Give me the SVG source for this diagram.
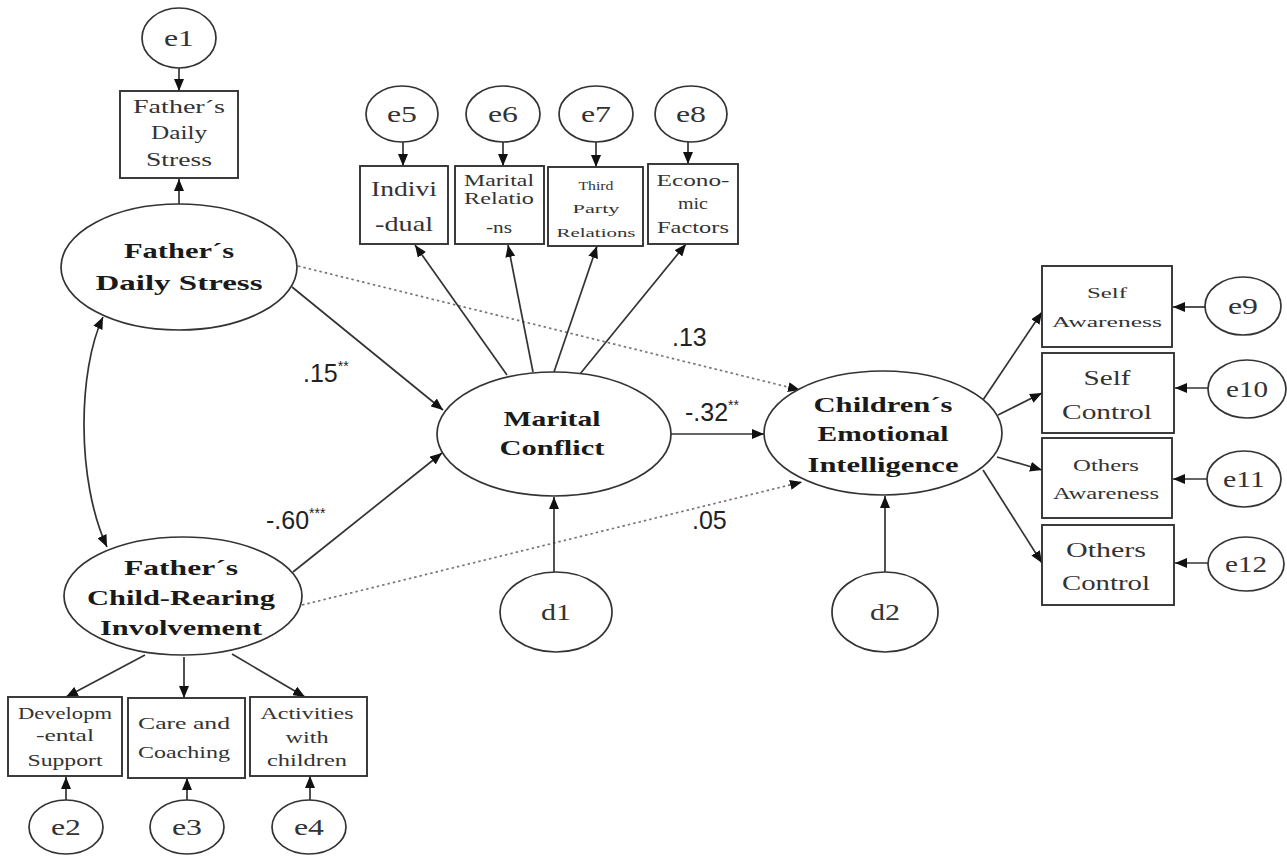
<svg xmlns="http://www.w3.org/2000/svg" width="1287" height="859" viewBox="0 0 1287 859">
<defs>
<marker id="ah" markerUnits="userSpaceOnUse" markerWidth="13" markerHeight="10" refX="12" refY="5" orient="auto-start-reverse">
<path d="M0,0 L12,5 L0,10 z" fill="#111"/>
</marker>
<style>
.n{fill:#fff;stroke:#333;stroke-width:1.7}
.b{fill:#fff;stroke:#333;stroke-width:1.9}
.c{fill:none;stroke:#333;stroke-width:1.7;marker-end:url(#ah)}
.d{fill:none;stroke:#777;stroke-width:1.7;stroke-dasharray:2.5 3;marker-end:url(#ah)}
.lt{font-family:"Liberation Serif",serif;font-weight:bold;font-size:22px;fill:#1a1a1a;text-anchor:middle}
.bt{font-family:"Liberation Serif",serif;fill:#333;text-anchor:middle}
.et{font-family:"Liberation Serif",serif;font-size:24px;fill:#333;text-anchor:middle}
.lb{font-family:"Liberation Sans",sans-serif;font-size:25px;fill:#222}
.sup{font-size:14px}
</style>
</defs>
<rect width="1287" height="859" fill="#fff"/>

<g id="connectors">
<line class="c" x1="179" y1="68" x2="179" y2="91"/>
<line class="c" x1="179" y1="204" x2="179" y2="179"/>
<path class="c" d="M103,317 C78,370 76,480 107,547" marker-start="url(#ah)"/>
<line class="c" x1="145" y1="655" x2="66" y2="697"/>
<line class="c" x1="184" y1="657" x2="184" y2="698"/>
<line class="c" x1="232" y1="654" x2="305" y2="697"/>
<line class="c" x1="66" y1="800" x2="66" y2="777"/>
<line class="c" x1="187" y1="800" x2="187" y2="778"/>
<line class="c" x1="310" y1="800" x2="310" y2="776"/>
<line class="c" x1="292" y1="287" x2="443" y2="410"/>
<line class="c" x1="293" y1="572" x2="442" y2="453"/>
<line class="d" x1="298" y1="266" x2="800" y2="390"/>
<line class="d" x1="302" y1="605" x2="802" y2="482"/>
<line class="c" x1="670" y1="434" x2="764" y2="434"/>
<line class="c" x1="507" y1="375" x2="415" y2="245"/>
<line class="c" x1="533" y1="372" x2="508" y2="245"/>
<line class="c" x1="554" y1="372" x2="597" y2="246"/>
<line class="c" x1="580" y1="374" x2="686" y2="244"/>
<line class="c" x1="403" y1="142" x2="403" y2="166"/>
<line class="c" x1="503" y1="142" x2="503" y2="166"/>
<line class="c" x1="596" y1="142" x2="596" y2="167"/>
<line class="c" x1="688" y1="142" x2="688" y2="164"/>
<line class="c" x1="554" y1="572" x2="554" y2="497"/>
<line class="c" x1="885" y1="572" x2="885" y2="496"/>
<line class="c" x1="983" y1="400" x2="1042" y2="312"/>
<line class="c" x1="998" y1="415" x2="1042" y2="393"/>
<line class="c" x1="997" y1="457" x2="1042" y2="470"/>
<line class="c" x1="983" y1="470" x2="1042" y2="563"/>
<line class="c" x1="1205" y1="307" x2="1173" y2="307"/>
<line class="c" x1="1208" y1="388" x2="1175" y2="388"/>
<line class="c" x1="1207" y1="479" x2="1173" y2="479"/>
<line class="c" x1="1209" y1="563" x2="1175" y2="563"/>
</g>

<g id="labels">
<text class="lb" x="303" y="382">.15<tspan class="sup" dy="-11">**</tspan></text>
<text class="lb" x="266" y="529">-.60<tspan class="sup" dy="-11">***</tspan></text>
<text class="lb" x="672" y="346">.13</text>
<text class="lb" x="685" y="421">-.32<tspan class="sup" dy="-11">**</tspan></text>
<text class="lb" x="692" y="529">.05</text>
</g>

<g id="e1"><ellipse class="n" cx="179" cy="38" rx="37" ry="30"/><text class="et" x="179" y="46" textLength="30" lengthAdjust="spacingAndGlyphs">e1</text></g>
<g id="fds_obs"><rect class="b" x="120" y="91" width="118" height="87"/>
<text class="bt" font-size="18" x="179" y="113" textLength="92" lengthAdjust="spacingAndGlyphs">Father´s</text>
<text class="bt" font-size="18" x="179" y="139" textLength="56" lengthAdjust="spacingAndGlyphs">Daily</text>
<text class="bt" font-size="18" x="179" y="166" textLength="66" lengthAdjust="spacingAndGlyphs">Stress</text></g>

<g id="fds"><ellipse class="n" cx="179" cy="267" rx="118" ry="63"/>
<text class="lt" x="179" y="258" textLength="110" lengthAdjust="spacingAndGlyphs">Father´s</text>
<text class="lt" x="179" y="290" textLength="167" lengthAdjust="spacingAndGlyphs">Daily Stress</text></g>

<g id="fcr"><ellipse class="n" cx="183" cy="596" rx="119" ry="59"/>
<text class="lt" x="181" y="575" textLength="114" lengthAdjust="spacingAndGlyphs">Father´s</text>
<text class="lt" x="181" y="605" textLength="188" lengthAdjust="spacingAndGlyphs">Child-Rearing</text>
<text class="lt" x="181" y="635" textLength="162" lengthAdjust="spacingAndGlyphs">Involvement</text></g>

<g id="dev"><rect class="b" x="8" y="697" width="114" height="79"/>
<text class="bt" font-size="16" x="65" y="719" textLength="94" lengthAdjust="spacingAndGlyphs">Developm</text>
<text class="bt" font-size="16" x="65" y="741" textLength="58" lengthAdjust="spacingAndGlyphs">-ental</text>
<text class="bt" font-size="16" x="65" y="766" textLength="75" lengthAdjust="spacingAndGlyphs">Support</text></g>
<g id="care"><rect class="b" x="128" y="698" width="117" height="80"/>
<text class="bt" font-size="16" x="184" y="729" textLength="92" lengthAdjust="spacingAndGlyphs">Care and</text>
<text class="bt" font-size="16" x="184" y="758" textLength="92" lengthAdjust="spacingAndGlyphs">Coaching</text></g>
<g id="act"><rect class="b" x="250" y="697" width="117" height="79"/>
<text class="bt" font-size="16" x="307" y="719" textLength="93" lengthAdjust="spacingAndGlyphs">Activities</text>
<text class="bt" font-size="16" x="307" y="743" textLength="43" lengthAdjust="spacingAndGlyphs">with</text>
<text class="bt" font-size="16" x="307" y="766" textLength="80" lengthAdjust="spacingAndGlyphs">children</text></g>
<g id="e2"><ellipse class="n" cx="66" cy="827" rx="37" ry="27"/><text class="et" x="66" y="835" textLength="30" lengthAdjust="spacingAndGlyphs">e2</text></g>
<g id="e3"><ellipse class="n" cx="187" cy="827" rx="37" ry="27"/><text class="et" x="187" y="835" textLength="30" lengthAdjust="spacingAndGlyphs">e3</text></g>
<g id="e4"><ellipse class="n" cx="309" cy="827" rx="37" ry="27"/><text class="et" x="309" y="835" textLength="30" lengthAdjust="spacingAndGlyphs">e4</text></g>

<g id="e5"><ellipse class="n" cx="402" cy="114" rx="36" ry="28"/><text class="et" x="402" y="122" textLength="30" lengthAdjust="spacingAndGlyphs">e5</text></g>
<g id="e6"><ellipse class="n" cx="503" cy="114" rx="37" ry="28"/><text class="et" x="503" y="122" textLength="30" lengthAdjust="spacingAndGlyphs">e6</text></g>
<g id="e7"><ellipse class="n" cx="596" cy="114" rx="37" ry="28"/><text class="et" x="596" y="122" textLength="30" lengthAdjust="spacingAndGlyphs">e7</text></g>
<g id="e8"><ellipse class="n" cx="691" cy="114" rx="36" ry="28"/><text class="et" x="691" y="122" textLength="30" lengthAdjust="spacingAndGlyphs">e8</text></g>

<g id="indiv"><rect class="b" x="360" y="166" width="88" height="78"/>
<text class="bt" font-size="22" x="404" y="196" textLength="66" lengthAdjust="spacingAndGlyphs">Indivi</text>
<text class="bt" font-size="22" x="404" y="231" textLength="58" lengthAdjust="spacingAndGlyphs">-dual</text></g>
<g id="marrel"><rect class="b" x="455" y="166" width="89" height="78"/>
<text class="bt" font-size="16" x="499" y="186" textLength="70" lengthAdjust="spacingAndGlyphs">Marital</text>
<text class="bt" font-size="16" x="499" y="204" textLength="70" lengthAdjust="spacingAndGlyphs">Relatio</text>
<text class="bt" font-size="16" x="499" y="233" textLength="26" lengthAdjust="spacingAndGlyphs">-ns</text></g>
<g id="third"><rect class="b" x="548" y="167" width="95" height="79"/>
<text class="bt" font-size="13" x="596" y="190" textLength="35" lengthAdjust="spacingAndGlyphs">Third</text>
<text class="bt" font-size="13" x="596" y="213" textLength="47" lengthAdjust="spacingAndGlyphs">Party</text>
<text class="bt" font-size="13" x="596" y="237" textLength="79" lengthAdjust="spacingAndGlyphs">Relations</text></g>
<g id="econ"><rect class="b" x="648" y="164" width="90" height="80"/>
<text class="bt" font-size="16" x="693" y="186" textLength="73" lengthAdjust="spacingAndGlyphs">Econo-</text>
<text class="bt" font-size="16" x="693" y="209" textLength="30" lengthAdjust="spacingAndGlyphs">mic</text>
<text class="bt" font-size="16" x="693" y="233" textLength="72" lengthAdjust="spacingAndGlyphs">Factors</text></g>

<g id="marital"><ellipse class="n" cx="554" cy="434" rx="117" ry="62"/>
<text class="lt" x="552" y="426" textLength="97" lengthAdjust="spacingAndGlyphs">Marital</text>
<text class="lt" x="552" y="455" textLength="105" lengthAdjust="spacingAndGlyphs">Conflict</text></g>
<g id="d1"><ellipse class="n" cx="556" cy="612" rx="56" ry="40"/><text class="et" x="556" y="620" textLength="30" lengthAdjust="spacingAndGlyphs">d1</text></g>

<g id="children"><ellipse class="n" cx="883" cy="433" rx="119" ry="62"/>
<text class="lt" x="883" y="412" textLength="139" lengthAdjust="spacingAndGlyphs">Children´s</text>
<text class="lt" x="883" y="441" textLength="131" lengthAdjust="spacingAndGlyphs">Emotional</text>
<text class="lt" x="883" y="472" textLength="151" lengthAdjust="spacingAndGlyphs">Intelligence</text></g>
<g id="d2"><ellipse class="n" cx="885" cy="612" rx="53" ry="40"/><text class="et" x="885" y="620" textLength="30" lengthAdjust="spacingAndGlyphs">d2</text></g>

<g id="selfaw"><rect class="b" x="1042" y="266" width="130" height="81"/>
<text class="bt" font-size="15" x="1107" y="298" textLength="40" lengthAdjust="spacingAndGlyphs">Self</text>
<text class="bt" font-size="15" x="1107" y="327" textLength="110" lengthAdjust="spacingAndGlyphs">Awareness</text></g>
<g id="selfco"><rect class="b" x="1042" y="353" width="132" height="80"/>
<text class="bt" font-size="20" x="1107" y="385" textLength="47" lengthAdjust="spacingAndGlyphs">Self</text>
<text class="bt" font-size="20" x="1107" y="419" textLength="90" lengthAdjust="spacingAndGlyphs">Control</text></g>
<g id="othaw"><rect class="b" x="1042" y="438" width="130" height="80"/>
<text class="bt" font-size="16" x="1106" y="471" textLength="66" lengthAdjust="spacingAndGlyphs">Others</text>
<text class="bt" font-size="16" x="1106" y="499" textLength="106" lengthAdjust="spacingAndGlyphs">Awareness</text></g>
<g id="othco"><rect class="b" x="1042" y="525" width="132" height="80"/>
<text class="bt" font-size="20" x="1106" y="557" textLength="80" lengthAdjust="spacingAndGlyphs">Others</text>
<text class="bt" font-size="20" x="1106" y="590" textLength="88" lengthAdjust="spacingAndGlyphs">Control</text></g>

<g id="e9"><ellipse class="n" cx="1243" cy="306" rx="38" ry="29"/><text class="et" x="1243" y="314" textLength="30" lengthAdjust="spacingAndGlyphs">e9</text></g>
<g id="e10"><ellipse class="n" cx="1247" cy="389" rx="39" ry="29"/><text class="et" x="1247" y="397" textLength="42" lengthAdjust="spacingAndGlyphs">e10</text></g>
<g id="e11"><ellipse class="n" cx="1244" cy="479" rx="37" ry="28"/><text class="et" x="1244" y="487" textLength="42" lengthAdjust="spacingAndGlyphs">e11</text></g>
<g id="e12"><ellipse class="n" cx="1246" cy="564" rx="38" ry="27"/><text class="et" x="1246" y="572" textLength="42" lengthAdjust="spacingAndGlyphs">e12</text></g>
</svg>
